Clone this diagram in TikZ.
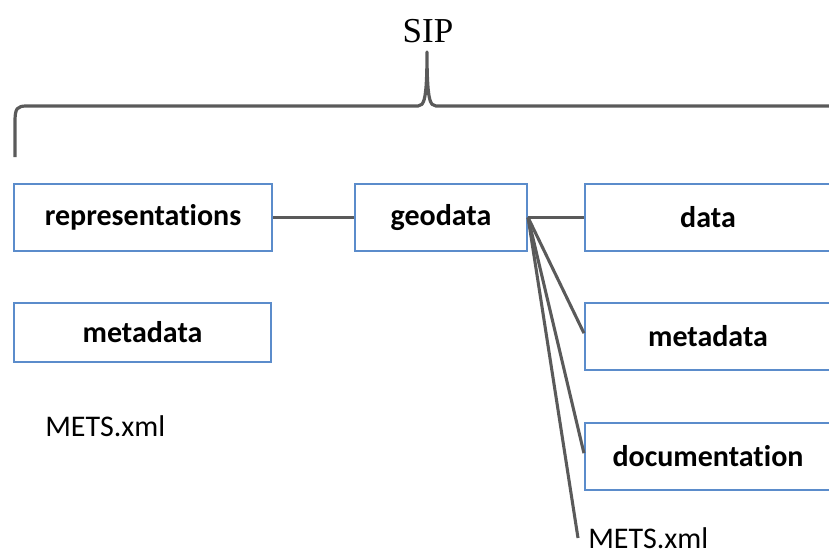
\documentclass[tikz,border=0pt]{standalone}
\usepackage{fontspec}
\setmainfont[Ligatures=NoCommon]{Carlito}
\newfontfamily\sipfont{Liberation Serif}
\definecolor{boxblue}{HTML}{5B8CCB}
\definecolor{linegray}{HTML}{5A5A5A}
\begin{document}
\begin{tikzpicture}[x=0.75pt,y=-0.75pt,
  folder/.style={draw=boxblue, line width=1.6pt, fill=white, inner sep=0pt,
    font=\fontsize{22.5}{27}\selectfont\bfseries},
  plain/.style={inner sep=0pt, font=\fontsize{22.5}{27}\selectfont},
  conn/.style={draw=linegray, line width=2.3pt}]
\useasboundingbox (0,0) rectangle (829,554);

% brace
\draw[linegray, line width=2.4pt, line join=round]
  (15,157) -- (15,122) .. controls (15,108) and (17,106) .. (27,106)
  -- (418,106) .. controls (424,106) and (427,100) .. (427,52)
  .. controls (427,100) and (430,106) .. (436,106) -- (840,106);
\node[inner sep=0pt, anchor=base, font=\sipfont\fontsize{26.25}{30}\selectfont] (sip) at (428,42) {SIP};

% boxes
\node[folder, minimum width=258*0.75pt, minimum height=67*0.75pt] (rep) at (143,217.5) {representations};
\node[folder, minimum width=172*0.75pt, minimum height=67*0.75pt] (geo) at (441,217.5) {geodata};
\node[folder, minimum width=257*0.75pt, minimum height=59*0.75pt] (metaL) at (142.5,332.5) {metadata};
\node[plain, anchor=west] (metsL) at (45,426) {METS.xml};

\node[folder, minimum width=246*0.75pt, minimum height=67*0.75pt] (data) at (708,217.5) {data};
\node[folder, minimum width=246*0.75pt, minimum height=67*0.75pt] (metaR) at (708,336.5) {metadata};
\node[folder, minimum width=246*0.75pt, minimum height=67*0.75pt] (doc) at (708,456.5) {documentation};
\node[plain, anchor=west] (metsR) at (588,538) {METS.xml};

% connectors
\draw[conn] (rep.east) -- (geo.west);
\draw[conn] (geo.east) -- (data.west);
\draw[conn] (geo.east) -- ([yshift=2.5pt]metaR.west);
\draw[conn] (geo.east) -- ([yshift=2.5pt]doc.west);
\draw[conn] (geo.east) -- ([xshift=-7.5pt]metsR.west);
\end{tikzpicture}
\end{document}
